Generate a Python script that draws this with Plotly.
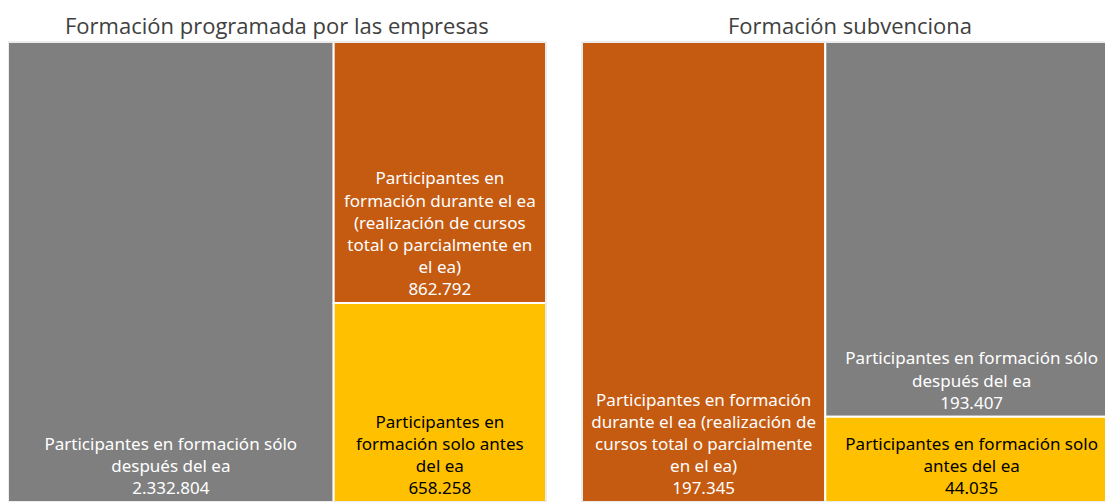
import plotly.graph_objects as go

# Participantes por momento de la formación (ea = expediente / ERTE)
categorias = ["despues", "durante", "antes"]

titulo_empresas = "Formación programada por las empresas"
textos_empresas = [
    "Participantes en formación sólo<br>después del ea",
    "Participantes en<br>formación durante el ea<br>(realización de cursos<br>total o parcialmente en<br>el ea)",
    "Participantes en<br>formación solo antes<br>del ea",
]
valores_empresas = [2332804, 862792, 658258]

titulo_subv = "Formación subvenciona"
textos_subv = [
    "Participantes en formación sólo<br>después del ea",
    "Participantes en formación<br>durante el ea (realización de<br>cursos total o parcialmente<br>en el ea)",
    "Participantes en formación solo<br>antes del ea",
]
valores_subv = [193407, 197345, 44035]

colores = ["#7f7f7f", "#c55a11", "#ffc000"]
colores_texto = ["white", "white", "black"]

# the page body has an 8px margin, the figure runs to the right edge of the window
W, H = 1110, 494
DOM_Y = [0, 1 - 34 / H]
DOM_IZQ = [0, 538 / W]
DOM_DER = [574 / W, 1.0]


def treemap(textos, valores, dominio):
    return go.Treemap(
        labels=categorias,
        parents=[""] * len(categorias),
        values=valores,
        text=textos,
        texttemplate="%{text}<br>%{value:,}",
        textposition="bottom center",
        textfont=dict(family="Noto Sans", size=17, color=colores_texto),
        marker=dict(colors=colores, line=dict(color="white", width=2),
                    pad=dict(t=0, l=0, r=0, b=0)),
        tiling=dict(pad=0),
        pathbar=dict(visible=False),
        hoverinfo="skip",
        domain=dict(x=dominio, y=DOM_Y),
    )


fig = go.Figure()
fig.add_trace(treemap(textos_empresas, valores_empresas, DOM_IZQ))
fig.add_trace(treemap(textos_subv, valores_subv, DOM_DER))

for titulo, dom in [(titulo_empresas, DOM_IZQ), (titulo_subv, DOM_DER)]:
    fig.add_annotation(
        text=titulo, xref="paper", yref="paper",
        x=(dom[0] + dom[1]) / 2, y=1.0, showarrow=False,
        xanchor="center", yanchor="top",
        font=dict(family="Open Sans", size=22, color="#404040"),
    )
    fig.add_shape(
        type="rect", xref="paper", yref="paper",
        x0=dom[0], x1=dom[1], y0=DOM_Y[0], y1=DOM_Y[1],
        line=dict(color="#d9d9d9", width=1), layer="above",
    )

fig.update_layout(
    width=W, height=H,
    margin=dict(l=0, r=0, t=0, b=0),
    paper_bgcolor="white",
    separators=",.",
)

fig.write_html("out.html")
